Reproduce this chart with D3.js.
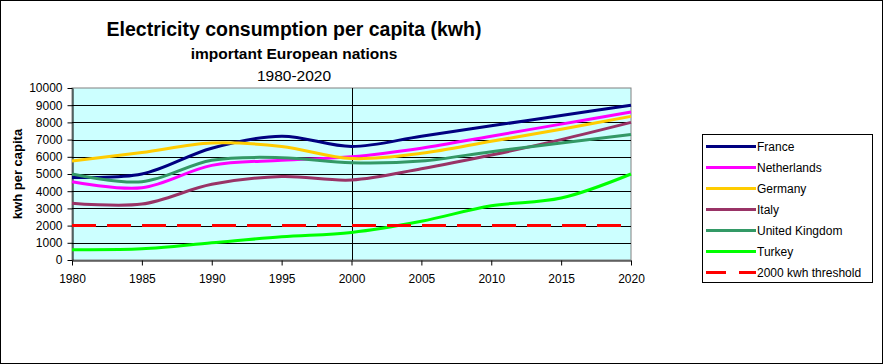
<!DOCTYPE html>
<html>
<head>
<meta charset="utf-8">
<script src="https://cdn.jsdelivr.net/npm/d3@7"></script>
<style>
  body { margin: 0; background: #fff; }
  svg { display: block; font-family: "Liberation Sans", Arial, sans-serif; }
</style>
</head>
<body>
<svg id="chart"></svg>
<script>
// data
const years = [1980, 1985, 1990, 1995, 2000, 2005, 2010, 2015, 2020];
const france      = [4800, 5000, 6500, 7200, 6600, 7200, 7800, 8400, 9000];
const netherlands = [4550, 4200, 5500, 5800, 6000, 6500, 7200, 7900, 8600];
const germany     = [5750, 6250, 6800, 6600, 5900, 6200, 6900, 7600, 8350];
const italy       = [3300, 3250, 4400, 4850, 4650, 5300, 6100, 7000, 8000];
const uk          = [5000, 4550, 5800, 5950, 5650, 5750, 6300, 6800, 7300];
const turkey      = [600, 650, 1000, 1350, 1600, 2250, 3150, 3600, 5000];
const threshold   = [2000, 2000, 2000, 2000, 2000, 2000, 2000, 2000, 2000];
const yTicks = [0, 1000, 2000, 3000, 4000, 5000, 6000, 7000, 8000, 9000, 10000];
const xTicks = years;

const series = [
  {name: "France", values: france, color: "#000080"},
  {name: "Netherlands", values: netherlands, color: "#ff00ff"},
  {name: "Germany", values: germany, color: "#ffcc00"},
  {name: "Italy", values: italy, color: "#993366"},
  {name: "United Kingdom", values: uk, color: "#339966"},
  {name: "Turkey", values: turkey, color: "#00ff00"},
  {name: "2000 kwh threshold", values: threshold, color: "#ff0000", dash: "24,11"}
];

const width = 883, height = 364;
const plot = {left: 72, right: 631, top: 88, bottom: 260};

const svg = d3.select("#chart").attr("width", width).attr("height", height);

svg.append("rect")
  .attr("x", 0.5).attr("y", 0.5)
  .attr("width", width - 1).attr("height", height - 1)
  .attr("fill", "#fff").attr("stroke", "#000");

const x = d3.scaleLinear().domain([1980, 2020]).range([plot.left, plot.right]);
const y = d3.scaleLinear().domain([0, 10000]).range([plot.bottom, plot.top]);

// plot background
svg.append("rect")
  .attr("x", plot.left).attr("y", plot.top)
  .attr("width", plot.right - plot.left).attr("height", plot.bottom - plot.top)
  .attr("fill", "#ccffff").attr("stroke", "#808080");

// gridlines
svg.append("g")
  .selectAll("line")
  .data(yTicks.filter(d => d > 0 && d < 10000))
  .join("line")
  .attr("x1", plot.left).attr("x2", plot.right)
  .attr("y1", d => Math.round(y(d)) + 0.5).attr("y2", d => Math.round(y(d)) + 0.5)
  .attr("stroke", "#000");

// vertical line at 2000
svg.append("line")
  .attr("x1", Math.round(x(2000)) + 0.5).attr("x2", Math.round(x(2000)) + 0.5)
  .attr("y1", plot.top).attr("y2", plot.bottom)
  .attr("stroke", "#000");

// axes
const xAxis = d3.axisBottom(x).tickValues(xTicks).tickFormat(d3.format("d")).tickSize(5).tickSizeOuter(0);
const yAxis = d3.axisLeft(y).tickValues(yTicks).tickFormat(d3.format("d")).tickSize(5).tickSizeOuter(0);

const xg = svg.append("g")
  .attr("transform", `translate(0, ${plot.bottom + 0.5})`)
  .call(xAxis);
const yg = svg.append("g")
  .attr("transform", `translate(${plot.left + 0.5}, 0)`)
  .call(yAxis);

[xg, yg].forEach(g => {
  g.selectAll("path, line").attr("stroke", "#000");
  g.selectAll("text").attr("fill", "#000").attr("font-size", "12px")
    .attr("font-family", "'Liberation Sans', Arial, sans-serif");
});
xg.selectAll("text").attr("dy", null).attr("y", 0).attr("transform", "translate(0, 22)");
yg.selectAll("text").attr("x", -10);

// lines
const line = d3.line()
  .x((d, i) => x(years[i]))
  .y(d => y(d))
  .curve(d3.curveCatmullRom.alpha(0.5));

svg.append("g")
  .selectAll("path")
  .data(series)
  .join("path")
  .attr("d", d => d.dash ? d3.line().x((v, i) => x(years[i])).y(v => y(v))(d.values) : line(d.values))
  .attr("fill", "none")
  .attr("stroke", d => d.color)
  .attr("stroke-width", 3)
  .attr("stroke-dasharray", d => d.dash || null);

// titles
svg.append("text")
  .attr("x", 294).attr("y", 36)
  .attr("text-anchor", "middle")
  .attr("font-size", "19.5px").attr("font-weight", "bold")
  .text("Electricity consumption per capita (kwh)");
svg.append("text")
  .attr("x", 294).attr("y", 59)
  .attr("text-anchor", "middle")
  .attr("font-size", "15.5px").attr("font-weight", "bold")
  .text("important European nations");
svg.append("text")
  .attr("x", 294).attr("y", 81)
  .attr("text-anchor", "middle")
  .attr("font-size", "15.5px")
  .text("1980-2020");

svg.append("text")
  .attr("transform", "translate(22, 174) rotate(-90)")
  .attr("text-anchor", "middle")
  .attr("font-size", "13px").attr("font-weight", "bold")
  .text("kwh per capita");

// legend
const legend = svg.append("g");
legend.append("rect")
  .attr("x", 702.5).attr("y", 134.5)
  .attr("width", 170).attr("height", 148)
  .attr("fill", "#fff").attr("stroke", "#000");

const rows = legend.selectAll("g.row")
  .data(series)
  .join("g")
  .attr("class", "row")
  .attr("transform", (d, i) => `translate(0, ${146 + i * 21})`);

rows.append("line")
  .attr("x1", 706).attr("x2", 756)
  .attr("y1", 0.5).attr("y2", 0.5)
  .attr("stroke", d => d.color)
  .attr("stroke-width", 3)
  .attr("stroke-dasharray", d => d.dash ? "20,13" : null);

rows.append("text")
  .attr("x", 757).attr("y", 4.5)
  .attr("font-size", "12px")
  .text(d => d.name);
</script>
</body>
</html>
